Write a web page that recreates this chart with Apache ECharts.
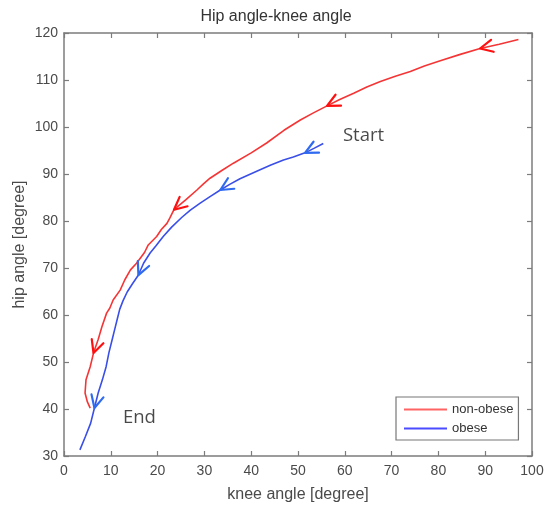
<!DOCTYPE html>
<html>
<head>
<meta charset="utf-8">
<script src="https://cdn.jsdelivr.net/npm/echarts@6/dist/echarts.min.js"></script>
<style>
  html, body { margin: 0; padding: 0; background: #fff; }
  #chart { width: 552px; height: 509px; }
</style>
</head>
<body>
<div id="chart"></div>
<script>
// Hip angle vs knee angle trajectories, ordered from start of motion to end
const nonObese = [
  [97.1,118.6],[93.0,117.6],[88.9,116.7],[84.5,115.4],[80.4,114.1],[77.0,113.0],
  [74.0,111.8],[70.8,110.8],[67.6,109.7],[64.7,108.5],[61.9,107.2],[58.8,105.8],
  [56.2,104.5],[53.3,103.0],[50.5,101.5],[47.0,99.3],[43.3,96.6],[40.0,94.5],
  [36.2,92.3],[33.8,90.8],[31.2,89.1],[29.8,87.9],[28.4,86.6],[26.0,84.5],
  [23.5,82.4],[22.6,80.6],[22.0,79.5],[20.8,78.2],[19.8,76.7],[18.0,74.9],
  [17.2,73.3],[15.5,71.0],[14.2,69.6],[13.0,67.5],[12.0,65.3],[10.5,63.2],
  [9.8,61.5],[9.1,60.4],[8.1,57.5],[7.3,54.8],[6.3,51.9],[5.6,49.0],
  [4.7,46.2],[4.5,43.4],[5.0,41.5],[5.6,40.2]
];
const obese = [
  [55.4,96.5],[53.5,95.5],[51.5,94.5],[49.0,93.6],[46.9,93.0],[44.2,91.9],
  [41.9,90.9],[37.6,89.0],[35.4,87.8],[33.4,86.6],[31.2,85.2],[29.1,83.8],
  [27.0,82.3],[25.2,80.8],[23.0,78.7],[21.2,76.7],[19.7,74.8],[18.4,73.2],
  [17.0,71.0],[15.9,68.5],[14.6,66.6],[13.5,64.9],[12.6,63.0],[11.9,61.2],
  [11.4,59.2],[10.9,57.2],[10.3,54.8],[9.6,52.0],[9.0,49.0],[8.2,46.2],
  [7.3,43.4],[6.5,40.2],[5.7,37.0],[4.6,34.2],[3.4,31.3]
];
// Points along each trajectory that carry a direction arrowhead
const nonObeseArrowIdx = [2, 12, 24, 40];
const obeseArrowIdx = [2, 9, 19, 31];

const seriesNames = ['non-obese', 'obese'];
const xTicks = [0, 10, 20, 30, 40, 50, 60, 70, 80, 90, 100];
const yTicks = [30, 40, 50, 60, 70, 80, 90, 100, 110, 120];
const annotations = [
  { text: 'Start', at: [59.6, 98.1] },
  { text: 'End', at: [12.6, 38.2] }
];

const RED = '#f53535', BLUE = '#3a4fe8';
const RED_ARROW = '#ff1010', BLUE_ARROW = '#2f6bf0';
const AXIS = '#7c7c7c', TEXT = '#4a4a4a';
const FONT = '"Liberation Sans", Arial, sans-serif';

function arrowData(curve, idx) {
  // tip point followed by the preceding (upstream) point for orientation
  return idx.map(i => {
    const p = curve[i], q = curve[Math.max(0, i - 1)];
    return [p[0], p[1], q[0], q[1]];
  });
}

function arrowRenderer(color) {
  return function (params, api) {
    const tip = api.coord([api.value(0), api.value(1)]);
    const back = api.coord([api.value(2), api.value(3)]);
    let ux = back[0] - tip[0], uy = back[1] - tip[1];
    const len = Math.hypot(ux, uy) || 1;
    ux /= len; uy /= len;
    const L = 14, a = 26 * Math.PI / 180;
    const w1 = [tip[0] + L * (ux * Math.cos(a) - uy * Math.sin(a)),
                tip[1] + L * (ux * Math.sin(a) + uy * Math.cos(a))];
    const w2 = [tip[0] + L * (ux * Math.cos(-a) - uy * Math.sin(-a)),
                tip[1] + L * (ux * Math.sin(-a) + uy * Math.cos(-a))];
    return {
      type: 'polyline',
      shape: { points: [w1, tip, w2] },
      style: { stroke: color, lineWidth: 2.2, fill: null, lineJoin: 'round', lineCap: 'round' }
    };
  };
}

const axisCommon = {
  type: 'value',
  axisLine: { show: true, onZero: false, lineStyle: { color: AXIS, width: 1.5 } },
  axisTick: { show: true, inside: true, length: 5, lineStyle: { color: AXIS, width: 1.2 } },
  splitLine: { show: false }
};

const chart = echarts.init(document.getElementById('chart'), null, { renderer: 'canvas' });
chart.setOption({
  backgroundColor: '#ffffff',
  animation: false,
  title: {
    text: 'Hip angle-knee angle',
    left: 'center', top: 4,
    textStyle: { fontFamily: FONT, fontSize: 16, fontWeight: 'normal', color: '#333' }
  },
  grid: { left: 64, right: 20, top: 33, bottom: 53 },
  legend: {
    left: 396, top: 397,
    orient: 'vertical',
    itemWidth: 43, itemHeight: 2, itemGap: 6,
    padding: [6, 5, 5, 8],
    borderColor: '#777', borderWidth: 1.2, borderRadius: 0,
    backgroundColor: '#fff',
    icon: 'rect',
    textStyle: { fontFamily: FONT, fontSize: 13, color: '#333' },
    data: [
      { name: seriesNames[0], itemStyle: { color: '#ff6464' } },
      { name: seriesNames[1], itemStyle: { color: '#4b4bff' } }
    ]
  },
  xAxis: [
    Object.assign({}, axisCommon, {
      position: 'bottom', min: 0, max: 100, interval: 10,
      name: 'knee angle [degree]', nameLocation: 'middle', nameGap: 31,
      nameMoveOverlap: false,
      nameTextStyle: { fontFamily: FONT, fontSize: 16, color: TEXT },
      axisLabel: { fontFamily: FONT, fontSize: 14, color: TEXT, margin: 8,
        customValues: xTicks },
      axisTick: Object.assign({}, axisCommon.axisTick, { customValues: xTicks })
    }),
    Object.assign({}, axisCommon, {
      position: 'top', min: 0, max: 100, interval: 10,
      axisLabel: { show: false }
    })
  ],
  yAxis: [
    Object.assign({}, axisCommon, {
      position: 'left', min: 30, max: 120, interval: 10,
      name: 'hip angle [degree]', nameLocation: 'middle', nameGap: 36,
      nameMoveOverlap: false,
      nameTextStyle: { fontFamily: FONT, fontSize: 16, color: TEXT },
      axisLabel: { fontFamily: FONT, fontSize: 14, color: TEXT, margin: 6,
        customValues: yTicks },
      axisTick: Object.assign({}, axisCommon.axisTick, { customValues: yTicks })
    }),
    Object.assign({}, axisCommon, {
      position: 'right', min: 30, max: 120, interval: 10,
      axisLabel: { show: false }
    })
  ],
  series: [
    {
      name: seriesNames[0], type: 'line', data: nonObese,
      showSymbol: false, symbol: 'none', smooth: false,
      lineStyle: { color: RED, width: 1.6 }, itemStyle: { color: RED }, z: 3
    },
    {
      name: seriesNames[1], type: 'line', data: obese,
      showSymbol: false, symbol: 'none', smooth: false,
      lineStyle: { color: BLUE, width: 1.6 }, itemStyle: { color: BLUE }, z: 3
    },
    {
      type: 'custom', data: arrowData(nonObese, nonObeseArrowIdx),
      renderItem: arrowRenderer(RED_ARROW), z: 4, silent: true
    },
    {
      type: 'custom', data: arrowData(obese, obeseArrowIdx),
      renderItem: arrowRenderer(BLUE_ARROW), z: 4, silent: true
    },
    {
      type: 'scatter', symbolSize: 0, silent: true,
      data: annotations.map(a => ({ value: a.at, name: a.text })),
      label: {
        show: true, position: 'right', distance: 0,
        formatter: p => p.name,
        fontFamily: '"Open Sans", "Noto Sans", sans-serif', fontSize: 18.5, color: '#1a1a1a'
      }
    }
  ]
});
</script>
</body>
</html>
